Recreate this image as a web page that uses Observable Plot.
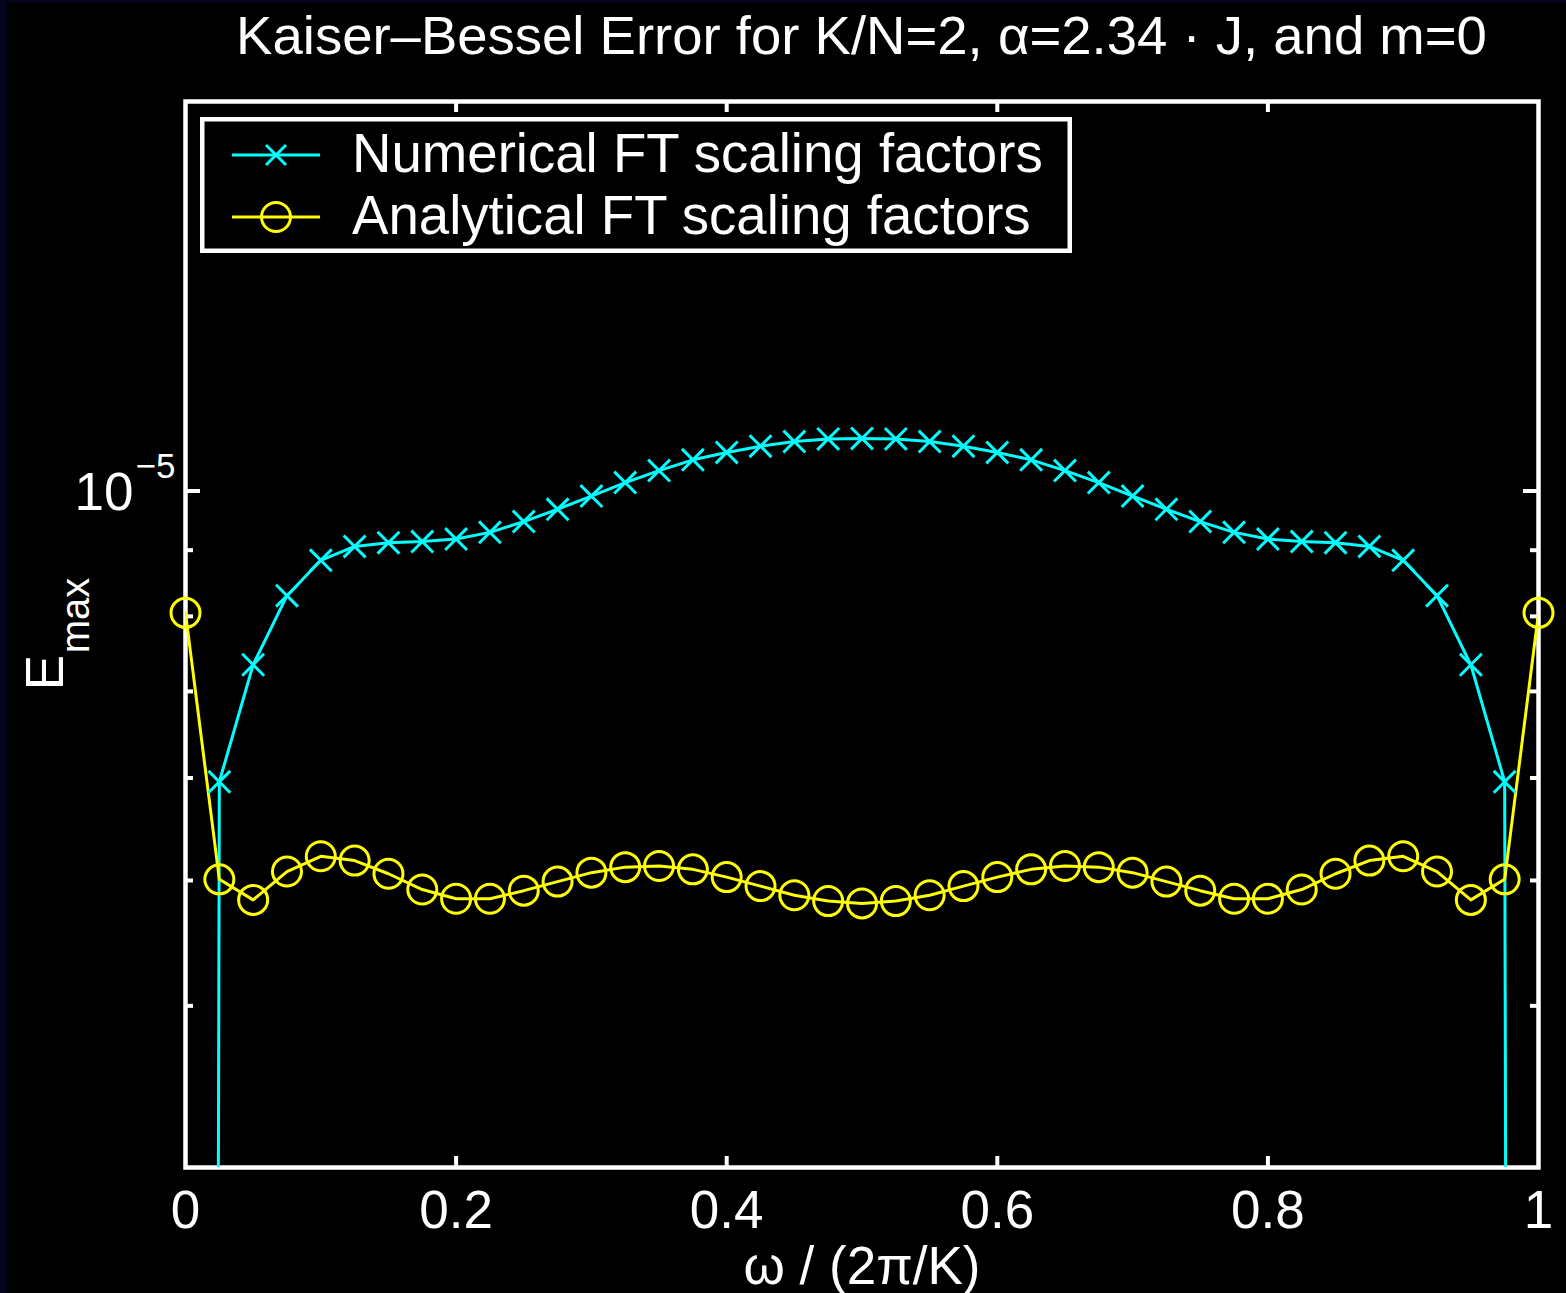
<!DOCTYPE html>
<html>
<head>
<meta charset="utf-8">
<script src="https://cdn.jsdelivr.net/npm/d3@7"></script>
<script src="https://cdn.jsdelivr.net/npm/@observablehq/plot@0.6"></script>
<style>
  html, body { margin: 0; padding: 0; background: #03031c; }
  body { width: 1566px; height: 1293px; overflow: hidden; }
  #figure {
    position: absolute; left: 7px; top: 3px;
    width: 1559px; height: 1290px; background: #000;
    font-family: "Liberation Sans", Arial, Helvetica, sans-serif; color: #fff;
  }
  #title {
    margin-left: 178px; width: 1353px; height: 60px; box-sizing: border-box;
    padding-top: 3px; line-height: 60px; font-size: 54.5px; text-align: center;
    white-space: nowrap;
  }
  #legend { position: absolute; left: 193px; top: 114px; }
  svg { display: block; }
</style>
</head>
<body>
<div id="figure">
  <div id="title">Kaiser–Bessel Error for K/N=2, α=2.34 · J, and m=0</div>
  <div id="chart"></div>
  <svg id="legend" width="872" height="136" font-family="Liberation Sans, Arial, Helvetica, sans-serif" font-size="54.6" fill="#fff">
    <rect x="2.25" y="2.25" width="867.5" height="131.5" fill="#000" stroke="#fff" stroke-width="4.5"></rect>
    <line x1="32" x2="120" y1="38" y2="38" stroke="#00ffff" stroke-width="3"></line>
    <path d="M66,28L86,48M66,48L86,28" stroke="#00ffff" stroke-width="3" fill="none"></path>
    <text x="152" y="55">Numerical FT scaling factors</text>
    <line x1="32" x2="120" y1="100" y2="100" stroke="#ffff00" stroke-width="3"></line>
    <circle cx="76" cy="100" r="14.5" stroke="#ffff00" stroke-width="3" fill="none"></circle>
    <text x="152" y="117">Analytical FT scaling factors</text>
  </svg>
</div>
<script>
// Sample frequencies ω / (2π/K)
const omega = [0, 0.025, 0.05, 0.075, 0.1, 0.125, 0.15, 0.175, 0.2, 0.225, 0.25, 0.275,
  0.3, 0.325, 0.35, 0.375, 0.4, 0.425, 0.45, 0.475, 0.5, 0.525, 0.55, 0.575, 0.6, 0.625,
  0.65, 0.675, 0.7, 0.725, 0.75, 0.775, 0.8, 0.825, 0.85, 0.875, 0.9, 0.925, 0.95, 0.975, 1];

// Maximum error with numerically computed FT scaling factors (endpoints are ~0)
const numerical = [1e-16, 5.96e-6, 7.34e-6, 8.30e-6, 8.84e-6, 9.06e-6, 9.12e-6, 9.14e-6,
  9.18e-6, 9.29e-6, 9.47e-6, 9.68e-6, 9.91e-6, 1.015e-5, 1.037e-5, 1.057e-5, 1.071e-5,
  1.083e-5, 1.092e-5, 1.097e-5, 1.098e-5, 1.097e-5, 1.092e-5, 1.083e-5, 1.071e-5,
  1.057e-5, 1.037e-5, 1.015e-5, 9.91e-6, 9.68e-6, 9.47e-6, 9.29e-6, 9.18e-6, 9.14e-6,
  9.12e-6, 9.06e-6, 8.84e-6, 8.30e-6, 7.34e-6, 5.96e-6, 1e-16];

// Maximum error with analytically computed FT scaling factors
const analytical = [8.05e-6, 5.01e-6, 4.83e-6, 5.08e-6, 5.22e-6, 5.18e-6, 5.06e-6, 4.92e-6,
  4.84e-6, 4.84e-6, 4.91e-6, 4.99e-6, 5.07e-6, 5.12e-6, 5.13e-6, 5.10e-6, 5.03e-6, 4.95e-6,
  4.87e-6, 4.82e-6, 4.80e-6, 4.82e-6, 4.87e-6, 4.95e-6, 5.03e-6, 5.10e-6, 5.13e-6, 5.12e-6,
  5.07e-6, 4.99e-6, 4.91e-6, 4.84e-6, 4.84e-6, 4.92e-6, 5.06e-6, 5.18e-6, 5.22e-6, 5.08e-6,
  4.83e-6, 5.01e-6, 8.05e-6];

// Axis ticks
const xTickLabels = [0, 0.2, 0.4, 0.6, 0.8, 1];
const xInnerTicks = [0.2, 0.4, 0.6, 0.8];
const yMajorTicks = [1e-5];
const yMinorTicks = [9e-6, 8e-6, 7e-6, 6e-6, 5e-6, 4e-6];

const rows = omega.map((w, i) => ({w, numerical: numerical[i], analytical: analytical[i]}));

const W = 1559, H = 1230;
const mT = 38, mB = 126, mL = 178, mR = 28;
const innerW = W - mL - mR, innerH = H - mT - mB;
const white = "#ffffff", cyan = "#00ffff", yellow = "#ffff00";

const chart = Plot.plot({
  width: W, height: H,
  marginTop: mT, marginBottom: mB, marginLeft: mL, marginRight: mR,
  style: {background: "#000", color: white, fontFamily: "Liberation Sans, Arial, Helvetica, sans-serif", fontSize: "53px", overflow: "visible"},
  x: {domain: [0, 1]},
  y: {type: "log", domain: [3e-6, 2e-5], axis: null},
  marks: [
    // inward ticks along the box
    Plot.tickX(xInnerTicks, {x: d => d, stroke: white, strokeWidth: 4, insetTop: innerH - 11}),
    Plot.tickX(xInnerTicks, {x: d => d, stroke: white, strokeWidth: 4, insetBottom: innerH - 11}),
    Plot.tickY(yMajorTicks, {y: d => d, stroke: white, strokeWidth: 4, insetRight: innerW - 15}),
    Plot.tickY(yMajorTicks, {y: d => d, stroke: white, strokeWidth: 4, insetLeft: innerW - 15}),
    Plot.tickY(yMinorTicks, {y: d => d, stroke: white, strokeWidth: 4, insetRight: innerW - 8}),
    Plot.tickY(yMinorTicks, {y: d => d, stroke: white, strokeWidth: 4, insetLeft: innerW - 8}),
    Plot.frame({stroke: white, strokeWidth: 4.5}),
    Plot.axisX({ticks: xTickLabels, tickSize: 0, tickPadding: 23, tickFormat: d => String(d), label: null, fontSize: 53}),
    // y tick label as 10 with superscript exponent
    Plot.text(yMajorTicks, {y: d => d, frameAnchor: "left", text: () => "10", textAnchor: "end",
      lineAnchor: "bottom", dx: -52, dy: 19, fontSize: 53, fill: white}),
    Plot.text(yMajorTicks, {y: d => d, frameAnchor: "left", text: d => "−" + Math.abs(Math.round(Math.log10(d))),
      textAnchor: "start", lineAnchor: "bottom", dx: -50, dy: -13, fontSize: 35, fill: white}),
    // axis titles
    Plot.text(["E"], {text: d => d, frameAnchor: "left", rotate: -90, textAnchor: "middle",
      lineAnchor: "bottom", dx: -123, dy: 38, fontSize: 53, fill: white}),
    Plot.text(["max"], {text: d => d, frameAnchor: "left", rotate: -90, textAnchor: "middle",
      lineAnchor: "bottom", dx: -97, dy: -19, fontSize: 40, fill: white}),
    Plot.text(["ω / (2π/K)"], {text: d => d, frameAnchor: "bottom", textAnchor: "middle",
      lineAnchor: "bottom", dy: 116, fontSize: 53, fill: white}),
    // series
    Plot.line(rows, {x: "w", y: "numerical", stroke: cyan, strokeWidth: 3, clip: true}),
    Plot.line(rows, {x: "w", y: "analytical", stroke: yellow, strokeWidth: 3, clip: true}),
    Plot.dot(rows, {x: "w", y: "numerical", symbol: "times", r: 10, stroke: cyan, fill: "none", strokeWidth: 3, clip: true}),
    Plot.dot(rows, {x: "w", y: "analytical", symbol: "circle", r: 14.5, stroke: yellow, fill: "none", strokeWidth: 3})
  ]
});
document.getElementById("chart").appendChild(chart);
</script>
</body>
</html>
